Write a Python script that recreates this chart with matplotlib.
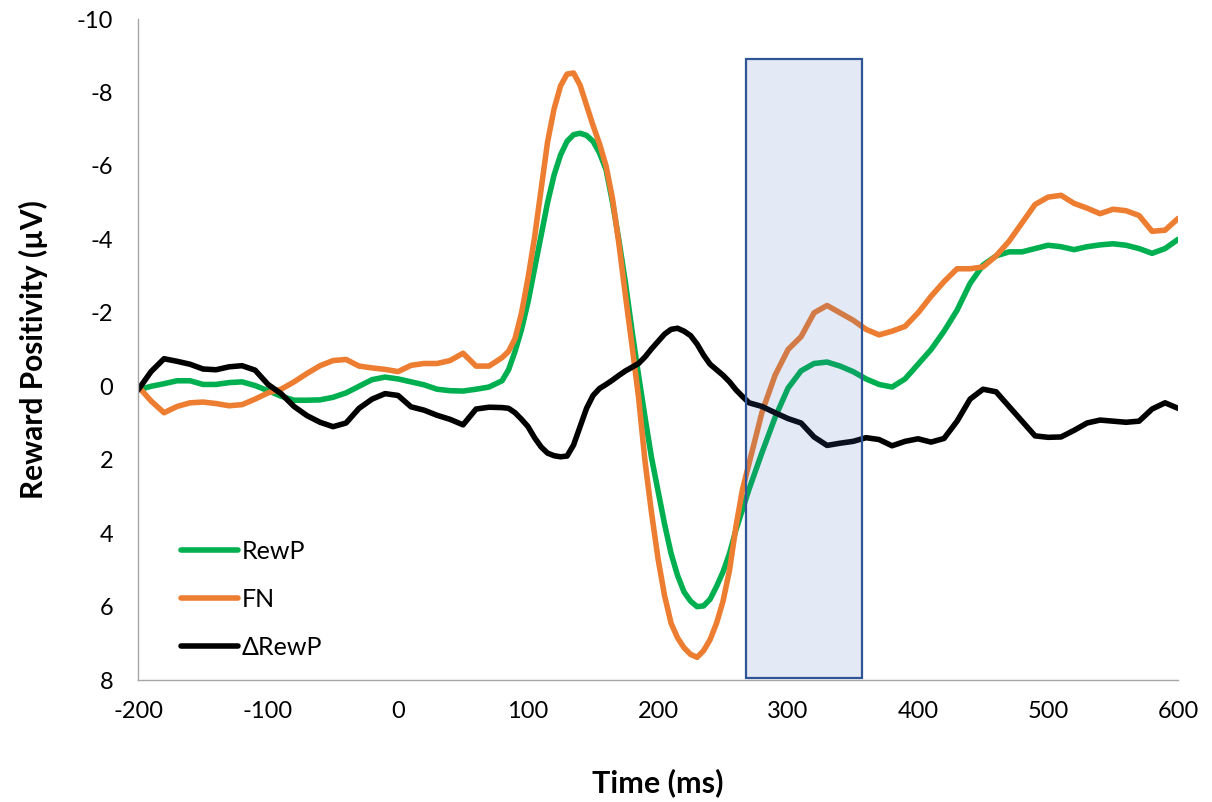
import numpy as np
import matplotlib
matplotlib.use("Agg")
import matplotlib.pyplot as plt
from matplotlib.patches import Rectangle

plt.rcParams['font.family'] = ['Lato', 'DejaVu Sans']
plt.rcParams['axes.unicode_minus'] = False

# Grand-average waveforms: 10 ms steps, 5 ms steps through the main deflections
time_ms = np.concatenate([np.arange(-200, 80, 10),
                          np.arange(80, 270, 5),
                          np.arange(270, 601, 10)])

rewp = [
    # -200 .. 70
    0.10, 0.00, -0.07, -0.15, -0.15, -0.05, -0.05, -0.10, -0.12, -0.02,
    0.12, 0.27, 0.38, 0.38, 0.37, 0.30, 0.18, 0.00, -0.18, -0.25,
    -0.20, -0.12, -0.04, 0.08, 0.12, 0.13, 0.08, 0.02,
    # 80 .. 265
    -0.15, -0.45, -0.95, -1.55, -2.30, -3.20, -4.10, -5.00, -5.75, -6.30,
    -6.67, -6.85, -6.89, -6.83, -6.67, -6.35, -5.90, -5.00, -3.95, -2.80,
    -1.50, -0.30, 0.85, 1.95, 2.85, 3.75, 4.55, 5.15, 5.60, 5.85,
    6.00, 5.98, 5.80, 5.45, 5.05, 4.55, 3.90, 3.35,
    # 270 .. 600
    2.80, 1.80, 0.85, 0.05, -0.42, -0.62, -0.66, -0.55, -0.40, -0.20,
    -0.05, 0.02, -0.20, -0.60, -1.00, -1.50, -2.07, -2.80, -3.30, -3.55,
    -3.66, -3.66, -3.75, -3.84, -3.80, -3.72, -3.80, -3.85, -3.88, -3.84,
    -3.75, -3.62, -3.75, -4.00,
]

fn = [
    # -200 .. 70
    0.00, 0.40, 0.72, 0.55, 0.45, 0.43, 0.47, 0.53, 0.50, 0.35,
    0.18, 0.08, -0.12, -0.35, -0.56, -0.70, -0.73, -0.55, -0.50, -0.46,
    -0.40, -0.57, -0.62, -0.62, -0.70, -0.90, -0.55, -0.55,
    # 80 .. 265
    -0.78, -0.95, -1.30, -2.00, -2.95, -4.05, -5.35, -6.65, -7.55, -8.18,
    -8.50, -8.53, -8.20, -7.65, -7.10, -6.60, -6.00, -5.10, -3.85, -2.45,
    -1.10, 0.30, 2.05, 3.45, 4.70, 5.70, 6.45, 6.85, 7.12, 7.30,
    7.38, 7.20, 6.90, 6.45, 5.85, 5.00, 3.80, 2.80,
    # 270 .. 600
    2.10, 0.70, -0.30, -1.00, -1.35, -2.00, -2.20, -2.00, -1.80, -1.55,
    -1.40, -1.50, -1.63, -2.00, -2.45, -2.85, -3.20, -3.20, -3.25, -3.55,
    -3.95, -4.45, -4.95, -5.15, -5.20, -4.98, -4.85, -4.70, -4.82, -4.78,
    -4.65, -4.22, -4.25, -4.57,
]

delta_rewp = [
    # -200 .. 70
    0.10, -0.40, -0.75, -0.68, -0.60, -0.47, -0.45, -0.53, -0.56, -0.44,
    -0.05, 0.20, 0.55, 0.80, 0.98, 1.10, 1.00, 0.60, 0.35, 0.20,
    0.25, 0.56, 0.65, 0.79, 0.90, 1.05, 0.62, 0.57,
    # 80 .. 265
    0.58, 0.60, 0.72, 0.90, 1.10, 1.40, 1.65, 1.82, 1.89, 1.92,
    1.90, 1.60, 1.10, 0.60, 0.25, 0.06, -0.05, -0.17, -0.30, -0.42,
    -0.52, -0.62, -0.80, -1.02, -1.22, -1.42, -1.55, -1.58, -1.50, -1.38,
    -1.15, -0.85, -0.60, -0.45, -0.30, -0.12, 0.10, 0.28,
    # 270 .. 600
    0.45, 0.55, 0.72, 0.88, 1.00, 1.38, 1.61, 1.55, 1.50, 1.40,
    1.45, 1.62, 1.50, 1.43, 1.52, 1.42, 0.95, 0.35, 0.08, 0.15,
    0.55, 0.95, 1.35, 1.39, 1.38, 1.20, 1.00, 0.92, 0.95, 0.98,
    0.95, 0.62, 0.45, 0.60,
]

# Scoring window for the RewP
window_start, window_end = 268, 357
window_top, window_bottom = -8.9, 7.95

fig = plt.figure(figsize=(12.12, 8.02), dpi=100)
ax = fig.add_axes([0.1139, 0.152, 0.8581, 0.8243])

line_kw = dict(lw=4.0, solid_capstyle="round", solid_joinstyle="round")
ax.plot(time_ms, rewp, color="#00B050", label="RewP", **line_kw)
ax.plot(time_ms, fn, color="#ED7D31", label="FN", **line_kw)
ax.plot(time_ms, delta_rewp, color="#000000", label="\u0394RewP", **line_kw)

# Translucent box drawn over the traces
ax.add_patch(Rectangle((window_start, window_top), window_end - window_start,
                       window_bottom - window_top, facecolor="#4472C4",
                       alpha=0.15, edgecolor="none", zorder=5))
ax.add_patch(Rectangle((window_start, window_top), window_end - window_start,
                       window_bottom - window_top, facecolor="none",
                       edgecolor="#2F5597", lw=1.6, zorder=6))

ax.set_xlim(-200, 600)
ax.set_ylim(8, -10)
ax.set_xticks(range(-200, 601, 100))
ax.set_yticks(range(-10, 9, 2))
ax.tick_params(length=0, labelsize=17, colors="#000000")
ax.tick_params(axis="x", pad=15)
ax.tick_params(axis="y", pad=18)

for side in ["top", "right"]:
    ax.spines[side].set_visible(False)
for side in ["left", "bottom"]:
    ax.spines[side].set_color("#A6A6A6")
    ax.spines[side].set_linewidth(1.0)

ax.set_xlabel("Time (ms)", fontsize=22, fontweight="bold", labelpad=33)
ax.set_ylabel("Reward Positivity (\u00b5V)", fontsize=21.5, fontweight="bold",
              labelpad=21)

ax.legend(loc="upper left", bbox_to_anchor=(0.02, 0.246), frameon=False,
          fontsize=18, handlelength=2.28, handletextpad=0.12,
          labelspacing=1.0)

fig.savefig("out.png", dpi=100)
